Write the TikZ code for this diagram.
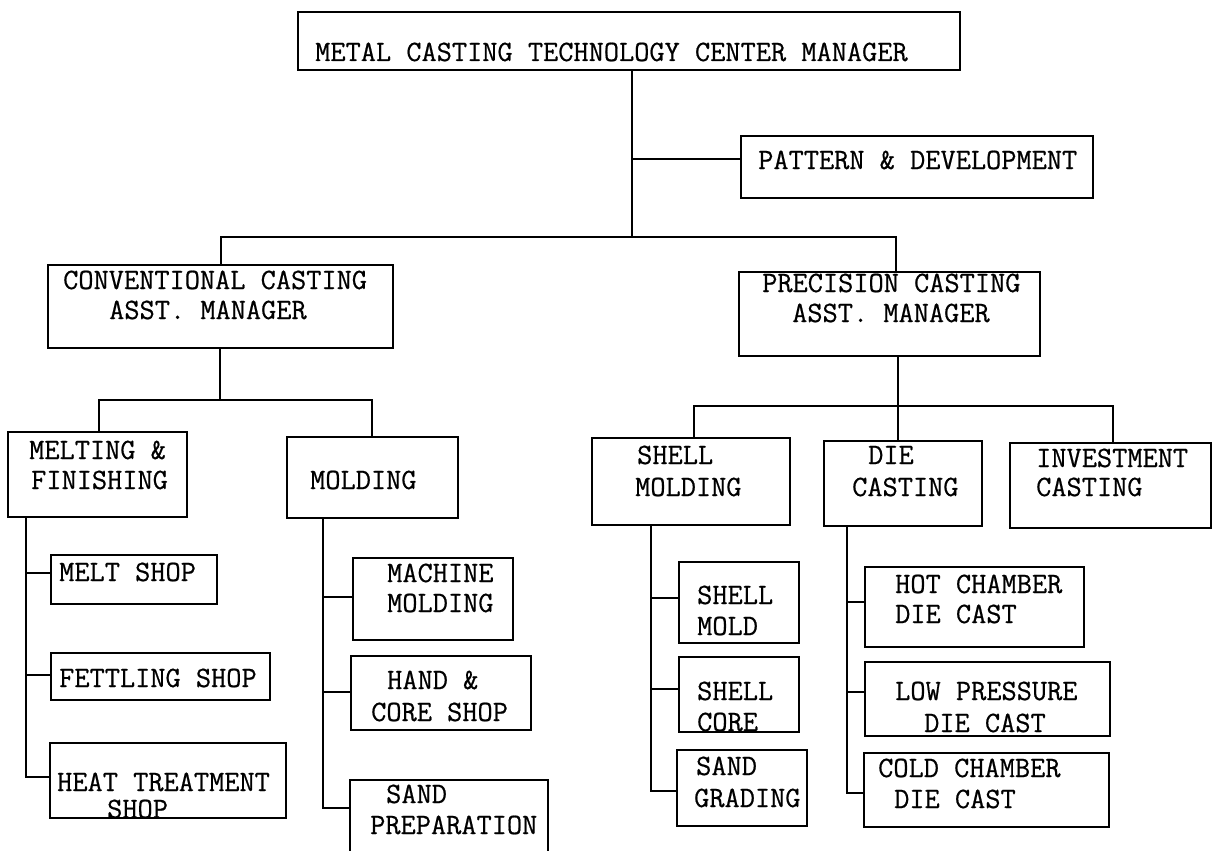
\documentclass[tikz,border=0pt]{standalone}
\usepackage{fontspec}
\newfontfamily\twfont{Latin Modern Mono}[FakeBold=0.6]
\tikzset{
  box/.style={draw, line width=2pt, inner sep=0pt},
  lbl/.style={anchor=base west, inner sep=0pt, font=\fontsize{29.5}{32}\selectfont\twfont},
  conn/.style={line width=2pt}
}
% \bx{name}{left}{top}{right}{bottom}
\newcommand\bx[5]{\node[box, minimum width={#4pt-#2pt}, minimum height={#5pt-#3pt}] (#1) at ({(#2+#4)/2},{(#3+#5)/2}) {};}
% \tx{name}{x}{ycenter}{text}
\newcommand\tx[4]{\node[lbl] (#1) at (#2,{#3+9}) {#4};}
\begin{document}
\begin{tikzpicture}[x=1pt,y=-1pt]
\useasboundingbox (0,0) rectangle (1213,851);
\clip (0,0) rectangle (1213,851);
% boxes
\bx{top}{298}{12}{960}{70}
\bx{pat}{741}{136}{1093}{198}
\bx{conv}{48}{265}{393}{348}
\bx{prec}{739}{272}{1040}{356}
\bx{melt}{8}{432}{187}{517}
\bx{mold}{287}{437}{458}{518}
\bx{shell}{592}{438}{790}{525}
\bx{die}{824}{441}{982}{526}
\bx{inv}{1010}{443}{1211}{528}
\bx{mshop}{51}{555}{217}{604}
\bx{fett}{51}{653}{270}{700}
\bx{heat}{50}{743}{286}{818}
\bx{mach}{353}{558}{513}{640}
\bx{hand}{351}{656}{531}{730}
\bx{sandp}{350}{780}{548}{858}
\bx{smold}{679}{562}{799}{643}
\bx{score}{679}{657}{799}{732}
\bx{sgrad}{677}{750}{807}{826}
\bx{hot}{865}{567}{1084}{647}
\bx{low}{865}{662}{1110}{736}
\bx{cold}{864}{753}{1109}{827}
% texts
\tx{ttop}{315}{52}{METAL CASTING TECHNOLOGY CENTER MANAGER}
\tx{tpat}{758}{160}{PATTERN \& DEVELOPMENT}
\tx{tconva}{63}{280}{CONVENTIONAL CASTING}
\tx{tconvb}{109}{310}{ASST. MANAGER}
\tx{tpreca}{762}{283}{PRECISION CASTING}
\tx{tprecb}{792}{313}{ASST. MANAGER}
\tx{tmelta}{29}{450}{MELTING \&}
\tx{tmeltb}{31}{480}{FINISHING}
\tx{tmold}{310}{480}{MOLDING}
\tx{tshella}{637}{455}{SHELL}
\tx{tshellb}{635}{487}{MOLDING}
\tx{tdiea}{868}{455}{DIE}
\tx{tdieb}{852}{487}{CASTING}
\tx{tinva}{1036}{458}{INVESTMENT}
\tx{tinvb}{1036}{487}{CASTING}
\tx{tmshop}{59}{572}{MELT SHOP}
\tx{tfett}{59}{678}{FETTLING SHOP}
\tx{theata}{57}{782}{HEAT TREATMENT}
\tx{theatb}{107}{809}{SHOP}
\tx{tmacha}{387}{573}{MACHINE}
\tx{tmachb}{387}{603}{MOLDING}
\tx{thanda}{387}{680}{HAND \&}
\tx{thandb}{371}{712}{CORE SHOP}
\tx{tsandpa}{386}{794}{SAND}
\tx{tsandpb}{370}{825}{PREPARATION}
\tx{tsmolda}{697}{595}{SHELL}
\tx{tsmoldb}{697}{626}{MOLD}
\tx{tscorea}{697}{691}{SHELL}
\tx{tscoreb}{697}{722}{CORE}
\tx{tsgrada}{696}{766}{SAND}
\tx{tsgradb}{694}{798}{GRADING}
\tx{thota}{895}{584}{HOT CHAMBER}
\tx{thotb}{895}{614}{DIE CAST}
\tx{tlowa}{895}{691}{LOW PRESSURE}
\tx{tlowb}{924}{723}{DIE CAST}
\tx{tcolda}{878}{768}{COLD CHAMBER}
\tx{tcoldb}{894}{799}{DIE CAST}
% junction coordinates
\coordinate (j0) at (632,237);
\coordinate (j1) at (220,400);
\coordinate (j2) at (898,406);
% connectors, top level
\draw[conn] (top.south -| j0) -- (j0);
\draw[conn] (pat.west |- 0,159) -- (632,159);
\draw[conn] (conv.north -| 221,0) |- (j0) -| (prec.north -| 896,0);
% conventional
\draw[conn] (conv.south -| j1) -- (j1);
\draw[conn] (melt.north -| 99,0) |- (j1) -| (mold.north -| 372,0);
% precision
\draw[conn] (prec.south -| j2) -- (j2);
\draw[conn] (shell.north -| 694,0) |- (j2) -| (inv.north -| 1113,0);
\draw[conn] (j2) -- (die.north -| j2);
% melting branch
\draw[conn] (melt.south -| 26,0) |- (heat.west |- 0,777);
\draw[conn] (26,573) -- (mshop.west |- 0,573);
\draw[conn] (26,675) -- (fett.west |- 0,675);
% molding branch
\draw[conn] (mold.south -| 323,0) |- (sandp.west |- 0,808);
\draw[conn] (323,597) -- (mach.west |- 0,597);
\draw[conn] (323,692) -- (hand.west |- 0,692);
% shell branch
\draw[conn] (shell.south -| 651,0) |- (sgrad.west |- 0,791);
\draw[conn] (651,598) -- (smold.west |- 0,598);
\draw[conn] (651,689) -- (score.west |- 0,689);
% die branch
\draw[conn] (die.south -| 847,0) |- (cold.west |- 0,793);
\draw[conn] (847,602) -- (hot.west |- 0,602);
\draw[conn] (847,692) -- (low.west |- 0,692);
\end{tikzpicture}
\end{document}
